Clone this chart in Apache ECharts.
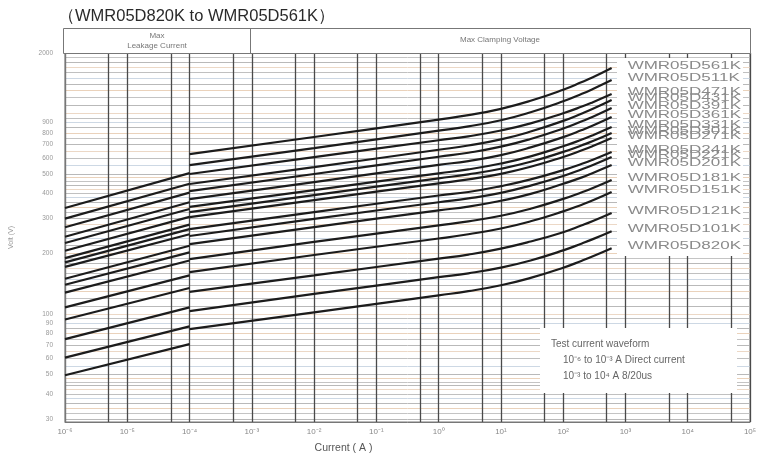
<!DOCTYPE html>
<html><head><meta charset="utf-8">
<script src="https://cdn.jsdelivr.net/npm/echarts@6/dist/echarts.min.js"></script>
<style>html,body{margin:0;padding:0;background:#fff}#c{width:760px;height:459px}</style>
</head><body><div id="c"></div>
<script>
const models = ['WMR05D561K','WMR05D511K','WMR05D471K','WMR05D431K','WMR05D391K','WMR05D361K','WMR05D331K','WMR05D301K','WMR05D271K','WMR05D241K','WMR05D221K','WMR05D201K','WMR05D181K','WMR05D151K','WMR05D121K','WMR05D101K','WMR05D820K'];
const leakCurrents = [1e-6, 1e-4];
const clampCurrents = [1e-4, 1e-2, 1, 3, 10, 30, 100, 200, 300, 600];
const leakVolts = [
  [338,504],[299,446],[271,403],[243,361],[226,334],[207,305],[190,279],[181,265],[172,250],
  [150,219],[140,203],[128,185],[108,156],[94,135],[75,108],[60.7,86.9],[49.6,70.9]
];
const clampVolts = [
  [627,763,932,980,1054,1156,1313,1434,1515,1684],
  [553,672,821,862,925,1014,1149,1252,1324,1467],
  [499,606,735,769,822,892,1002,1082,1138,1249],
  [445,540,659,692,742,812,918,999,1054,1166],
  [410,499,608,637,683,746,841,914,963,1064],
  [374,455,554,579,620,677,762,826,870,959],
  [342,415,503,526,563,611,686,741,779,855],
  [322,392,475,497,530,574,643,694,728,799],
  [304,370,448,469,500,542,607,655,688,754],
  [265,322,390,406,434,469,522,561,588,642],
  [245,298,361,377,402,437,488,527,553,606],
  [223,271,329,343,367,397,446,480,505,553],
  [188,229,277,290,309,335,375,405,425,466],
  [162,197,238,250,267,290,325,351,369,406],
  [129,156,189,198,212,230,256,277,291,319],
  [103.5,126,152.7,159.7,170.5,185.1,207.7,225,236.4,259],
  [84.2,102,124.1,130.1,139.2,151.5,170.2,184.6,194.2,213]
];
const xTickLabels = [1e-6,1e-5,1e-4,1e-3,1e-2,1e-1,1,10,100,1000,10000,100000];
const xGridValues = [1e-6,5e-6,1e-5,5e-5,1e-4,5e-4,1e-3,5e-3,1e-2,5e-2,1e-1,5e-1,1,5,10,50,100,500,1000,5000,10000,50000,100000];
const yTickLabels = [30,40,50,60,70,80,90,100,200,300,400,500,600,700,800,900,2000];
const yGridValues = [30,32,34,36,38,40,42,44,46,48,50,55,60,65,70,75,80,85,90,95,100,110,120,130,140,150,160,170,180,190,200,220,240,260,280,300,320,340,360,380,400,420,440,460,480,500,550,600,650,700,750,800,850,900,950,1000,1100,1200,1300,1400,1500,1600,1700,1800,1900,2000];
const headerLeft = 'Max\nLeakage Current';
const headerRight = 'Max Clamping Voltage';
const title = '（WMR05D820K to WMR05D561K）';
const noteLines = ['Test current waveform','10⁻⁶ to 10⁻³ A Direct current','10⁻³ to 10⁴ A 8/20us'];

const sup = {'-':'⁻','0':'⁰','1':'¹','2':'²','3':'³','4':'⁴','5':'⁵','6':'⁶','7':'⁷','8':'⁸','9':'⁹'};
function pow10Label(v){
  const e = Math.round(Math.log10(v));
  return '10' + String(e).split('').map(c=>sup[c]).join('');
}

const chart = echarts.init(document.getElementById('c'));
const series = [];
models.forEach((m,i)=>{
  series.push({
    type:'line', name:m+' leak', z:5, silent:true, showSymbol:false, animation:false,
    lineStyle:{color:'#1c1c1c', width:2.2},
    data: leakCurrents.map((c,j)=>[c, leakVolts[i][j]])
  });
  series.push({
    type:'line', name:m, z:5, silent:true, showSymbol:false, animation:false,
    smooth:0.5,
    lineStyle:{color:'#1c1c1c', width:2.2},
    data: clampCurrents.map((c,j)=>[c, clampVolts[i][j]])
  });
});

const font = 'Liberation Sans, Arial, sans-serif';
const staticGraphics = [
  {type:'text', left:58, top:8, z:10, style:{text:title, fontSize:16.5, fill:'#2a2a2a', fontFamily:font}},
  {type:'rect', left:63, top:28, z:10, shape:{width:687, height:25}, style:{fill:'#fff', stroke:'#777', lineWidth:1}},
  {type:'line', z:11, shape:{x1:250.5, y1:28, x2:250.5, y2:53}, style:{stroke:'#777', lineWidth:1}},
  {type:'text', x:157, y:41, z:11, style:{text:headerLeft, fontSize:8, fill:'#777', align:'center', verticalAlign:'middle', lineHeight:10, fontFamily:font}},
  {type:'text', x:500, y:40, z:11, style:{text:headerRight, fontSize:8, fill:'#777', align:'center', verticalAlign:'middle', fontFamily:font}},
  {type:'rect', left:617, top:58, z:3, shape:{width:126, height:198}, style:{fill:'#fff'}},
  {type:'rect', left:540, top:328, z:3, shape:{width:197, height:65}, style:{fill:'#fff'}},
  {type:'text', left:551, top:339, z:4, style:{text:noteLines[0], fontSize:10, fill:'#666', fontFamily:font}},
  {type:'text', left:563, top:355, z:4, style:{text:noteLines[1], fontSize:10, fill:'#666', fontFamily:font}},
  {type:'text', left:563, top:371, z:4, style:{text:noteLines[2], fontSize:10, fill:'#666', fontFamily:font}}
];

chart.setOption({
  animation:false,
  textStyle:{fontFamily:font},
  grid:{left:63, right:10, top:53, bottom:37, show:true, borderColor:'#777', borderWidth:1},
  xAxis:{
    type:'log', logBase:10, min:1e-6, max:1e5,
    name:'Current ( A )', nameLocation:'middle', nameGap:21,
    nameTextStyle:{fontSize:10.5, color:'#555', padding:[0,128,0,0]},
    axisLine:{show:true, lineStyle:{color:'#777'}},
    axisTick:{show:false, customValues:xGridValues},
    axisLabel:{customValues:xTickLabels, formatter:pow10Label, fontSize:8, color:'#888', margin:6},
    splitLine:{show:true, lineStyle:{color:'#4a4a4a', width:1.3}},
    minorSplitLine:{show:false}
  },
  yAxis:{
    type:'log', logBase:10, min:29, max:2000,
    name:'Volt (V)', nameLocation:'middle', nameGap:50,
    nameTextStyle:{fontSize:7, color:'#999'},
    axisLine:{show:true, lineStyle:{color:'#777'}},
    axisTick:{show:false, customValues:yGridValues},
    axisLabel:{customValues:yTickLabels, formatter:v=>String(Math.round(v)), fontSize:6.5, color:'#999', margin:12},
    splitLine:{show:true, lineStyle:{color:['#b9b9b9','#c4c4c4','#ead2bb','#b9b9b9','#cdd8e4','#c0c0c0','#ecd8c6'], width:1}}
  },
  graphic: staticGraphics,
  series: series
});

// series name labels at each curve's end, placed through the chart's own scales
const last = clampCurrents.length - 1;
const labelEls = models.map((m,i)=>{
  const p = chart.convertToPixel({gridIndex:0}, [clampCurrents[last], clampVolts[i][last]]);
  return {type:'text', x:p[0]+16, y:p[1]-2, z:6, scaleX:1.7,
    style:{text:m, fontSize:10, fill:'#8a8a8a', verticalAlign:'middle', fontFamily:font}};
});
chart.setOption({graphic: staticGraphics.concat(labelEls)});
</script></body></html>
